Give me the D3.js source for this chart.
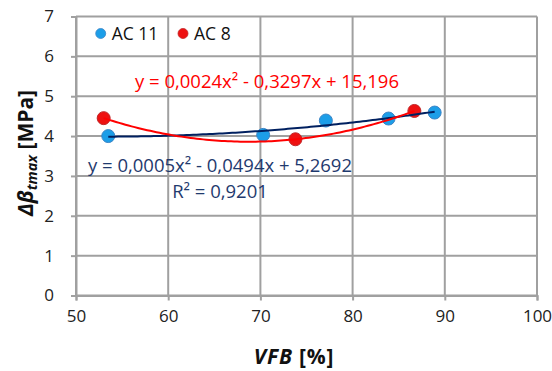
<!DOCTYPE html>
<html><head><meta charset="utf-8">
<script src="https://cdn.jsdelivr.net/npm/d3@7"></script>
<style>body{margin:0;background:#fff}svg{display:block;font-family:"Open Sans","Liberation Sans",sans-serif}</style>
</head><body><svg id="c" width="552" height="371"></svg>
<script>
const xTicks = [50, 60, 70, 80, 90, 100];
const yTicks = [0, 1, 2, 3, 4, 5, 6, 7];
const ac11X = [53.5, 70.3, 77.1, 83.9, 88.9];
const ac11Y = [4.0, 4.03, 4.39, 4.44, 4.59];
const ac8X = [53.0, 73.8, 86.7];
const ac8Y = [4.45, 3.92, 4.63];
const seriesNames = ["AC 11", "AC 8"];
const eqAC8 = "y = 0,0024x² - 0,3297x + 15,196";
const eqAC11 = "y = 0,0005x² - 0,0494x + 5,2692";
const r2AC11 = "R² = 0,9201";

const svg = d3.select("#c");
const x = d3.scaleLinear().domain([50, 100]).range([76, 537]);
const y = d3.scaleLinear().domain([0, 7]).range([295.5, 16.5]);
const grid = "#a0a0a0";

// gridlines
svg.append("g").selectAll("line").data(yTicks).join("line")
  .attr("x1", x(50)).attr("x2", x(100)).attr("y1", d => y(d)).attr("y2", d => y(d))
  .attr("stroke", grid).attr("stroke-width", 2);
svg.append("g").selectAll("line").data(xTicks).join("line")
  .attr("x1", d => x(d)).attr("x2", d => x(d)).attr("y1", y(0)).attr("y2", y(7))
  .attr("stroke", grid).attr("stroke-width", 2);

// axes
const xAxis = svg.append("g").attr("transform", `translate(0,${y(0)})`)
  .call(d3.axisBottom(x).tickValues(xTicks).tickFormat(d3.format("d")).tickSize(5).tickPadding(9));
const yAxis = svg.append("g").attr("transform", `translate(${x(50)},0)`)
  .call(d3.axisLeft(y).tickValues(yTicks).tickFormat(d3.format("d")).tickSize(5).tickPadding(17));
[xAxis, yAxis].forEach(a => {
  a.select(".domain").attr("stroke", grid).attr("stroke-width", 2);
  a.selectAll(".tick line").attr("stroke", grid).attr("stroke-width", 2);
  a.selectAll(".tick text").attr("font-size", 17).attr("fill", "#222")
    .attr("font-family", "'Open Sans', sans-serif");
});

// least-squares quadratic fit (Excel polynomial trendline)
function fitQuad(xs, ys) {
  const n = xs.length, S = k => d3.sum(xs, v => v ** k), T = k => d3.sum(xs, (v, i) => v ** k * ys[i]);
  const A = [[S(4), S(3), S(2), T(2)], [S(3), S(2), S(1), T(1)], [S(2), S(1), n, T(0)]];
  for (let i = 0; i < 3; i++) {
    for (let j = i + 1; j < 3; j++) {
      const f = A[j][i] / A[i][i];
      for (let k = i; k < 4; k++) A[j][k] -= f * A[i][k];
    }
  }
  const c = [0, 0, 0];
  for (let i = 2; i >= 0; i--) {
    let s = A[i][3];
    for (let k = i + 1; k < 3; k++) s -= A[i][k] * c[k];
    c[i] = s / A[i][i];
  }
  return v => c[0] * v * v + c[1] * v + c[2];
}

// markers
function markers(xs, ys, fill, stroke) {
  svg.append("g").selectAll("circle").data(xs).join("circle")
    .attr("cx", d => x(d)).attr("cy", (d, i) => y(ys[i])).attr("r", 6.5)
    .attr("fill", fill).attr("stroke", stroke).attr("stroke-width", 1);
}
markers(ac11X, ac11Y, "#1c9ee8", "#3d85c6");
markers(ac8X, ac8Y, "#ee1111", "#c0282a");

// trendlines
function trend(xs, ys, color) {
  const f = fitQuad(xs, ys);
  const lo = d3.min(xs), hi = d3.max(xs);
  const pts = d3.range(0, 101).map(i => lo + (hi - lo) * i / 100);
  svg.append("path").datum(pts)
    .attr("d", d3.line().x(d => x(d)).y(d => y(f(d))))
    .attr("fill", "none").attr("stroke", color).attr("stroke-width", 2);
}
trend(ac11X, ac11Y, "#002060");
trend(ac8X, ac8Y, "#ff0000");

// legend
[[100.7, "#1c9ee8", "#3d85c6"], [183, "#ee1111", "#c0282a"]].forEach((p, i) => {
  svg.append("circle").attr("cx", p[0]).attr("cy", 33.5).attr("r", 5).attr("fill", p[1]).attr("stroke", p[2]).attr("stroke-width", 0.8);
  svg.append("text").attr("x", p[0] + 11).attr("y", 39.5).attr("font-size", 17.5).attr("fill", "#111").text(seriesNames[i]);
});

// equations
svg.append("text").attr("x", 267).attr("y", 88).attr("text-anchor", "middle")
  .attr("font-size", 18.5).attr("fill", "#ff0000").text(eqAC8);
svg.append("text").attr("x", 220).attr("y", 172).attr("text-anchor", "middle")
  .attr("font-size", 18.5).attr("fill", "#1f3a6e").text(eqAC11);
svg.append("text").attr("x", 220).attr("y", 198).attr("text-anchor", "middle")
  .attr("font-size", 18.5).attr("fill", "#1f3a6e").text(r2AC11);

// axis titles
const xt = svg.append("text").attr("x", 294).attr("y", 364).attr("text-anchor", "middle")
  .attr("font-size", 21).attr("font-weight", "bold").attr("letter-spacing", 0.8).attr("fill", "#111");
xt.append("tspan").attr("font-style", "italic").text("VFB");
xt.append("tspan").text(" [%]");

const yt = svg.append("text").attr("transform", "translate(33,153) rotate(-90)")
  .attr("text-anchor", "middle").attr("font-size", 21).attr("font-weight", "bold").attr("fill", "#111");
yt.append("tspan").attr("font-style", "italic").text("Δβ");
yt.append("tspan").attr("font-style", "italic").attr("font-size", 14.5).attr("dy", 4).text("tmax");
yt.append("tspan").attr("dy", -4).text(" [MPa]");
</script></body></html>
